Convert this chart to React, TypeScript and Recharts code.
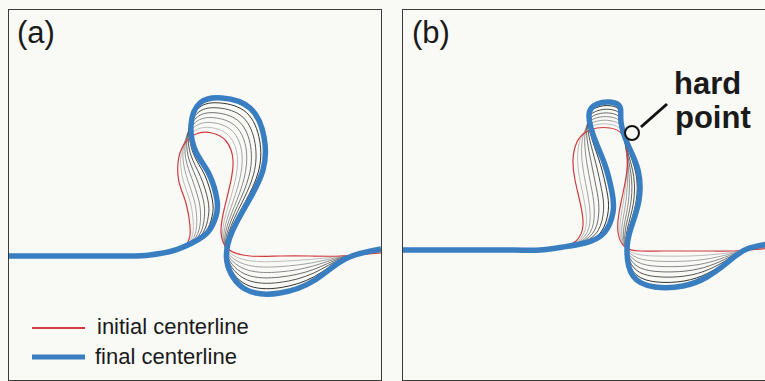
import React from "react";
import { LineChart, Line, XAxis, YAxis, ReferenceDot, ReferenceLine } from "recharts";

type Pt = [number, number];

// plan-view centerline coordinates, panel (a)
const redA: Pt[] = [
  [9, 256], [80, 256], [130, 256], [150, 256], [170, 253], [184, 247], [190, 235], [189, 218], [185, 200],
  [179, 182], [178, 163], [183, 146], [196, 134], [212, 133], [226, 141], [233, 160], [230, 185], [224, 210],
  [221, 232], [228, 249], [250, 256], [280, 256], [310, 256], [340, 256], [381, 253],
];
const blueA: Pt[] = [
  [9, 256], [80, 256], [130, 256], [150, 255], [172, 251], [192, 243], [208, 232], [216, 216], [217, 200],
  [209, 174], [196, 152], [191, 125], [200, 103], [222, 98], [250, 108], [264, 137], [263, 170], [248, 202],
  [232, 232], [227, 262], [245, 289], [280, 293], [315, 280], [345, 259], [381, 249],
];
// intermediate time steps, panel (a)
const stagesA: Pt[][] = [
  [[150, 256], [170.3, 252.7], [185.1, 246.4], [192.6, 234.6], [192.9, 217.7], [189.6, 200], [183.3, 180.9], [180.6, 161.4], [184.1, 143], [196.6, 129.6], [213.4, 128], [229.4, 136.3], [237.4, 156.7], [234.7, 182.9], [227.4, 208.9], [222.6, 232], [227.9, 250.9], [249.3, 260.7], [280, 261.3], [310.7, 259.4], [340.7, 256.4], [381, 252.4]],
  [[150, 256], [170.6, 252.4], [186.3, 245.9], [195.1, 234.1], [196.7, 217.4], [194.1, 200], [187.6, 179.7], [183.1, 159.9], [185.3, 140], [197.1, 125.1], [214.9, 123], [232.9, 131.6], [241.9, 153.4], [239.4, 180.7], [230.9, 207.7], [224.1, 232], [227.7, 252.7], [248.6, 265.4], [280, 266.6], [311.4, 262.9], [341.4, 256.9], [381, 251.9]],
  [[150, 255.6], [170.9, 252.1], [187.4, 245.3], [197.7, 233.7], [200.6, 217.1], [198.7, 200], [191.9, 178.6], [185.7, 158.3], [186.4, 137], [197.7, 120.7], [216.3, 118], [236.3, 126.9], [246.3, 150.1], [244.1, 178.6], [234.3, 206.6], [225.7, 232], [227.6, 254.6], [247.9, 270.1], [280, 271.9], [312.1, 266.3], [342.1, 257.3], [381, 251.3]],
  [[150, 255.4], [171.1, 251.9], [188.6, 244.7], [200.3, 233.3], [204.4, 216.9], [203.3, 200], [196.1, 177.4], [188.3, 156.7], [187.6, 134], [198.3, 116.3], [217.7, 113], [239.7, 122.1], [250.7, 146.9], [248.9, 176.4], [237.7, 205.4], [227.3, 232], [227.4, 256.4], [247.1, 274.9], [280, 277.1], [312.9, 269.7], [342.9, 257.7], [381, 250.7]],
  [[150, 255.3], [171.4, 251.6], [189.7, 244.1], [202.9, 232.9], [208.3, 216.6], [207.9, 200], [200.4, 176.3], [190.9, 155.1], [188.7, 131], [198.9, 111.9], [219.1, 108], [243.1, 117.4], [255.1, 143.6], [253.6, 174.3], [241.1, 204.3], [228.9, 232], [227.3, 258.3], [246.4, 279.6], [280, 282.4], [313.6, 273.1], [343.6, 258.1], [381, 250.1]],
  [[150, 255.1], [171.7, 251.3], [190.9, 243.6], [205.4, 232.4], [212.1, 216.3], [212.4, 200], [204.7, 175.1], [193.4, 153.6], [189.9, 128], [199.4, 107.4], [220.6, 103], [246.6, 112.7], [259.6, 140.3], [258.3, 172.1], [244.6, 203.1], [230.4, 232], [227.1, 260.1], [245.7, 284.3], [280, 287.7], [314.3, 276.6], [344.3, 258.6], [381, 249.6]],
];

// panel (b), with a hard point on the outer bank
const redB: Pt[] = [
  [403, 250], [470, 250], [515, 250], [540, 250], [560, 248], [576, 241], [583, 225], [580, 202], [575, 180],
  [573, 160], [577, 142], [586, 132], [597, 128], [610, 128], [622, 134], [627, 150], [627, 170], [623, 193],
  [619, 213], [618, 232], [625, 247], [640, 251], [662, 251], [690, 251], [712, 251], [730, 251], [748, 250], [775, 248],
];
const blueB: Pt[] = [
  [403, 250], [470, 250], [515, 250], [540, 250], [563, 247], [585, 243], [604, 233], [613, 212], [612, 192],
  [605, 165], [595, 140], [589, 115], [597, 104], [610, 102], [620, 107], [621, 122], [628, 145], [638, 170],
  [639, 200], [631, 228], [627, 250], [633, 276], [655, 287], [683, 286], [707, 277], [728, 262], [747, 249], [775, 243],
];
const stagesB: Pt[][] = [
  [[540, 250], [560.4, 247.9], [577.3, 241.3], [586, 226.1], [584.7, 203.4], [580.3, 181.7], [577.6, 160.7], [579.6, 141.7], [586.4, 129.6], [597, 124.6], [610, 124.3], [621.7, 130.1], [626.1, 146], [627.1, 166.4], [625.1, 189.7], [621.9, 211.1], [619.9, 231.4], [625.3, 247.4], [639, 254.6], [661, 256.1], [689, 256], [711.3, 254.7], [729.7, 252.6], [748, 249.9], [775, 247.3]],
  [[540, 250], [560.9, 247.7], [578.6, 241.6], [589, 227.3], [589.4, 204.9], [585.6, 183.4], [582.1, 161.4], [582.1, 141.4], [586.9, 127.1], [597, 121.1], [610, 120.6], [621.4, 126.3], [625.3, 142], [627.3, 162.9], [627.3, 186.4], [624.7, 209.3], [621.7, 230.9], [625.6, 247.9], [638, 258.1], [660, 261.3], [688, 261], [710.6, 258.4], [729.4, 254.1], [748, 249.7], [775, 246.6]],
  [[540, 250], [561.3, 247.6], [579.9, 241.9], [592, 228.4], [594.1, 206.3], [590.9, 185.1], [586.7, 162.1], [584.7, 141.1], [587.3, 124.7], [597, 117.7], [610, 116.9], [621.1, 122.4], [624.4, 138], [627.4, 159.3], [629.4, 183.1], [627.6, 207.4], [623.6, 230.3], [625.9, 248.3], [637, 261.7], [659, 266.4], [687, 266], [709.9, 262.1], [729.1, 255.7], [747.6, 249.6], [775, 245.9]],
  [[540, 250], [561.7, 247.4], [581.1, 242.1], [595, 229.6], [598.9, 207.7], [596.1, 186.9], [591.3, 162.9], [587.3, 140.9], [587.7, 122.3], [597, 114.3], [610, 113.1], [620.9, 118.6], [623.6, 134], [627.6, 155.7], [631.6, 179.9], [630.4, 205.6], [625.4, 229.7], [626.1, 248.7], [636, 265.3], [658, 271.6], [686, 271], [709.1, 265.9], [728.9, 257.3], [747.4, 249.4], [775, 245.1]],
  [[540, 250], [562.1, 247.3], [582.4, 242.4], [598, 230.7], [603.6, 209.1], [601.4, 188.6], [595.9, 163.6], [589.9, 140.6], [588.1, 119.9], [597, 110.9], [610, 109.4], [620.6, 114.7], [622.7, 130], [627.7, 152.1], [633.7, 176.6], [633.3, 203.7], [627.3, 229.1], [626.4, 249.1], [635, 268.9], [657, 276.7], [685, 276], [708.4, 269.6], [728.6, 258.9], [747.3, 249.3], [775, 244.4]],
  [[540, 250], [562.6, 247.1], [583.7, 242.7], [601, 231.9], [608.3, 210.6], [606.7, 190.3], [600.4, 164.3], [592.4, 140.3], [588.6, 117.4], [597, 107.4], [610, 105.7], [620.3, 110.9], [621.9, 126], [627.9, 148.6], [635.9, 173.3], [636.1, 201.9], [629.1, 228.6], [626.7, 249.6], [634, 272.4], [656, 281.9], [684, 281], [707.7, 273.3], [728.3, 260.4], [747.1, 249.1], [775, 243.7]],
];

const hardPoint = { x: 632, y: 133 };
const hardLeader = [{ x: 641, y: 127 }, { x: 667, y: 104 }];

const RED = "#d23b3f";
const BLUE = "#3a7ec2";
const BG = "#f9f9f6";
const stageColors = ["#b5b5b5", "#9a9a9a", "#7e7e7e", "#5e5e5e", "#3e3e3e", "#1e1e1e"];
const FONT = "'Liberation Sans', Arial, sans-serif";

const rows = (pts: Pt[]) => pts.map(([x, y]) => ({ x, y }));

function Panel({ left, xDomain, red, blue, stages, children }: {
  left: number; xDomain: [number, number]; red: Pt[]; blue: Pt[]; stages: Pt[][]; children?: React.ReactNode;
}) {
  return (
    <>
      <div style={{ position: "absolute", left, top: 10 }}>
        <LineChart width={372} height={370} margin={{ top: 0, right: 0, bottom: 0, left: 0 }}>
          <XAxis type="number" dataKey="x" domain={xDomain} hide />
          <YAxis type="number" dataKey="y" domain={[10, 380]} reversed hide />
          {stages.map((s, i) => (
            <Line key={i} data={rows(s)} dataKey="y" type="natural" stroke={stageColors[i]}
              strokeWidth={0.9} dot={false} isAnimationActive={false} />
          ))}
          <Line data={rows(red)} dataKey="y" type="natural" stroke={RED} strokeWidth={1.2}
            dot={false} isAnimationActive={false} />
          <Line data={rows(blue)} dataKey="y" type="natural" stroke={BLUE} strokeWidth={5.5}
            dot={false} isAnimationActive={false} />
          {children}
        </LineChart>
      </div>
      <div style={{
        position: "absolute", left: left - 1, top: 9, width: 374, height: 372,
        boxSizing: "border-box", border: "1.5px solid #3a3a3a", pointerEvents: "none",
      }} />
    </>
  );
}

export default function App() {
  return (
    <div style={{ position: "absolute", left: 0, top: 0, width: 765, height: 381, background: BG, overflow: "hidden" }}>
      <Panel left={9} xDomain={[9, 381]} red={redA} blue={blueA} stages={stagesA} />
      <Panel left={403} xDomain={[403, 775]} red={redB} blue={blueB} stages={stagesB}>
        <ReferenceLine segment={hardLeader} stroke="#111" strokeWidth={3} />
        <ReferenceDot x={hardPoint.x} y={hardPoint.y} r={7} fill={BG} stroke="#111" strokeWidth={2} />
      </Panel>
      <svg width={765} height={381} style={{ position: "absolute", left: 0, top: 0, pointerEvents: "none" }}>
        <text x={17} y={43} fontSize={31} fontFamily={FONT} fill="#1a1a1a">(a)</text>
        <text x={412} y={43} fontSize={31} fontFamily={FONT} fill="#1a1a1a">(b)</text>
        <line x1={32} x2={85} y1={328} y2={328} stroke={RED} strokeWidth={2} />
        <text x={97} y={334} fontSize={22} fontFamily={FONT} fill="#1a1a1a">initial centerline</text>
        <line x1={32} x2={85} y1={357} y2={357} stroke={BLUE} strokeWidth={5} />
        <text x={95} y={364} fontSize={22} fontFamily={FONT} fill="#1a1a1a">final centerline</text>
        <text x={674} y={94} fontSize={31} fontWeight="bold" fontFamily={FONT} fill="#1a1a1a">hard</text>
        <text x={675} y={128} fontSize={31} fontWeight="bold" fontFamily={FONT} fill="#1a1a1a">point</text>
      </svg>
    </div>
  );
}
